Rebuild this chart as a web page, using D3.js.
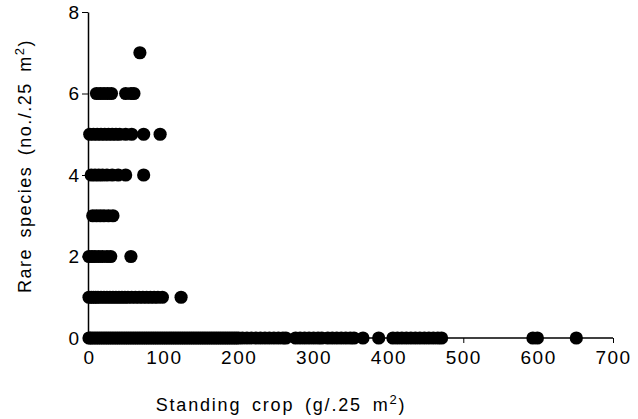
<!DOCTYPE html>
<html><head><meta charset="utf-8">
<script src="https://cdn.jsdelivr.net/npm/d3@7"></script>
<style>
body{margin:0;background:#fff;}
svg{display:block;font-family:"Liberation Sans",Arial,sans-serif;}
</style></head>
<body>
<svg id="c" width="638" height="419"></svg>
<script>
// Rare species count per quadrat (rows) and standing-crop values (g/.25 m2)
const rareLevels = [0,1,2,3,4,5,6,7];
const row0 = [0,2,5,8,11,14,17,20,23,26,29,32,35,38,41,44,47,50,53,56,59,62,65,68,71,74,77,80,83,86,89,92,95,98,101,104,107,110,113,116,119,122,125,128,131,134,137,140,143,146,149,152,155,158,161,164,167,170,173,176,179,182,185,188,191,194,197,200,205,211,217,223,229,235,241,247,253,259,263,276,282,288,294,300,306,311,319,325,331,337,343,349,354,366,387,406,412,418,424,430,436,442,448,454,460,466,471,593,599,651];
const row1 = [0,3,6,9,12,16,20,24,28,32,36,40,44,48,52,57,62,67,72,77,82,87,92,98,123];
const row2 = [0,4,8,13,18,24,29,56];
const row3 = [5,10,15,20,26,32];
const row4 = [3,8,13,18,24,31,39,49,73];
const row5 = [1,6,11,16,21,26,31,36,41,49,57,73,95];
const row6 = [10,15,20,25,30,49,56,60];
const row7 = [68];
const rows = [row0,row1,row2,row3,row4,row5,row6,row7];
const xTicks = [0,100,200,300,400,500,600,700];
const yTicks = [0,2,4,6,8];
const xTitle = "Standing crop (g/.25 m";
const yTitle = "Rare species (no./.25 m";

const svg = d3.select("#c");
const x = d3.scaleLinear().domain([0,700]).range([89,613]);
const y = d3.scaleLinear().domain([0,8]).range([338,12]);

const pts = [];
rows.forEach((r,i)=>r.forEach(v=>pts.push({x:v,y:rareLevels[i]})));

// axes
const xAxis = d3.axisBottom(x).tickValues(xTicks).tickSize(5).tickSizeOuter(0).tickPadding(8);
const gx = svg.append("g").attr("transform","translate(0,338)").call(xAxis);
gx.select(".domain").attr("stroke","#000").attr("stroke-width",1.3).attr("d","M88,0H613");
gx.selectAll("text").attr("font-size",19).attr("letter-spacing",1.5).attr("fill","#000").attr("font-family","Liberation Sans, Arial, sans-serif");

const yAxis = d3.axisLeft(y).tickValues(yTicks).tickSize(6).tickSizeOuter(0).tickPadding(3);
const gy = svg.append("g").attr("transform","translate(88,0)").call(yAxis);
gy.select(".domain").attr("stroke","#000").attr("stroke-width",1.5);
gy.selectAll("text").attr("font-size",19).attr("fill","#000").attr("font-family","Liberation Sans, Arial, sans-serif");
gy.selectAll(".tick").filter(d=>d===0).select("line").remove();

// points
svg.append("g").selectAll("circle").data(pts).join("circle")
  .attr("cx",d=>x(d.x)).attr("cy",d=>y(d.y)).attr("r",6.6).attr("fill","#000");

// titles
const xt = svg.append("text").attr("x",281).attr("y",411).attr("text-anchor","middle")
  .attr("font-size",18).attr("letter-spacing",1.8).attr("word-spacing",4).attr("fill","#000");
xt.append("tspan").text(xTitle);
xt.append("tspan").attr("font-size",13).attr("dy",-7).text("2");
xt.append("tspan").attr("dy",7).text(")");

const yt = svg.append("text").attr("transform","translate(31,166) rotate(-90)").attr("text-anchor","middle")
  .attr("font-size",18).attr("letter-spacing",1.5).attr("word-spacing",4).attr("fill","#000");
yt.append("tspan").text(yTitle);
yt.append("tspan").attr("font-size",13).attr("dy",-7).text("2");
yt.append("tspan").attr("dy",7).text(")");
</script>
</body></html>
